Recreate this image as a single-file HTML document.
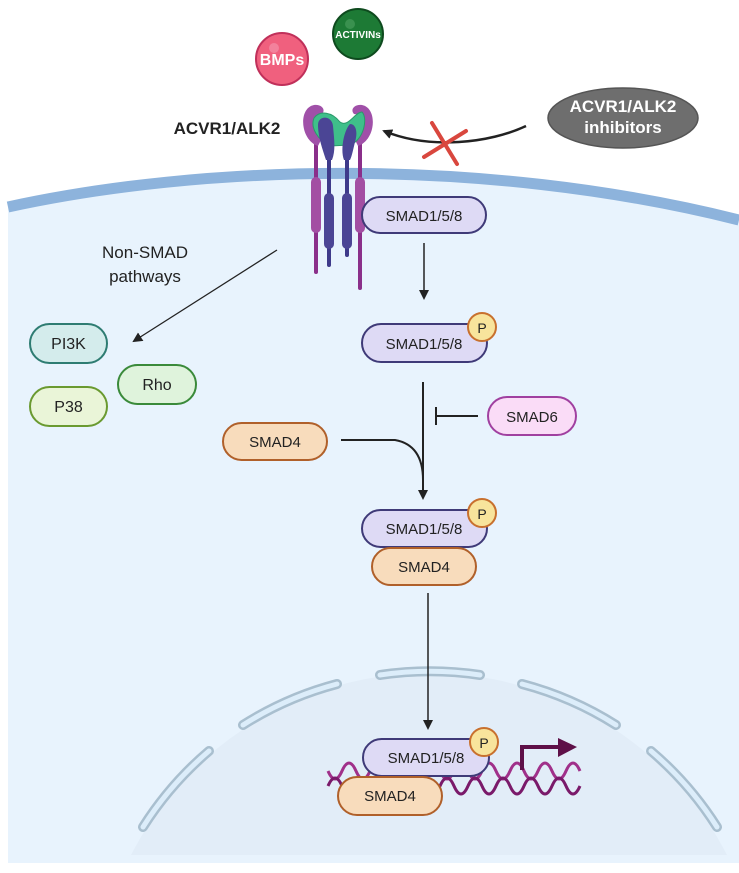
<!DOCTYPE html>
<html><head><meta charset="utf-8"><style>
html,body{margin:0;padding:0;background:#fff;width:739px;height:873px;overflow:hidden;}
svg{display:block;}
text{font-family:"Liberation Sans",Arial,sans-serif;}
</style></head><body>
<svg width="739" height="873" viewBox="0 0 739 873" xmlns="http://www.w3.org/2000/svg">
<defs>
<marker id="ah" markerWidth="10" markerHeight="10" refX="8" refY="5" orient="auto" markerUnits="userSpaceOnUse"><path d="M0,0 L10,5 L0,10 Z" fill="#222"/></marker>
<clipPath id="cellclip"><rect x="0" y="0" width="739" height="855"/></clipPath>
</defs>
<path d="M8,207 C200,165 480,155 739,220 L739,863 L8,863 Z" fill="#e8f3fd"/>
<circle cx="429" cy="1008" r="335" fill="#e2edf8" clip-path="url(#cellclip)"/>
<path d="M8,207 C200,165 480,155 739,220" fill="none" stroke="#8db3dc" stroke-width="11"/>

<g fill="none" stroke-linecap="round">
 <g stroke="#a9bfcf" stroke-width="10">
  <path d="M380,675 A335,335 0 0 1 480,675"/>
  <path d="M243,725 A335,335 0 0 1 337,684"/>
  <path d="M522,684 A335,335 0 0 1 616,725"/>
  <path d="M143,827 A335,335 0 0 1 209,751"/>
  <path d="M651,751 A335,335 0 0 1 717,827"/>
 </g>
 <g stroke="#dcedfa" stroke-width="5">
  <path d="M380,675 A335,335 0 0 1 480,675"/>
  <path d="M243,725 A335,335 0 0 1 337,684"/>
  <path d="M522,684 A335,335 0 0 1 616,725"/>
  <path d="M143,827 A335,335 0 0 1 209,751"/>
  <path d="M651,751 A335,335 0 0 1 717,827"/>
 </g>
</g>

<circle cx="282" cy="59" r="26" fill="#f0607e" stroke="#c0305a" stroke-width="2"/>
<circle cx="274" cy="48" r="5" fill="#f59ab0" opacity="0.6"/>
<text x="282" y="65" font-size="16" font-weight="bold" fill="#fff" text-anchor="middle">BMPs</text>
<circle cx="358" cy="34" r="25" fill="#1d7a35" stroke="#0e4a1e" stroke-width="2"/>
<circle cx="350" cy="24" r="5" fill="#4fa060" opacity="0.6"/>
<text x="358" y="38" font-size="10" font-weight="bold" fill="#fff" text-anchor="middle">ACTIVINs</text>

<text x="227" y="134" font-size="17" font-weight="bold" fill="#222" text-anchor="middle">ACVR1/ALK2</text>

<g stroke-linecap="round">
 <line x1="316" y1="140" x2="316" y2="272" stroke="#8a2f8a" stroke-width="4"/>
 <line x1="360" y1="140" x2="360" y2="288" stroke="#8a2f8a" stroke-width="4"/>
 <line x1="329" y1="140" x2="329" y2="265" stroke="#3e3a8a" stroke-width="4"/>
 <line x1="347" y1="140" x2="347" y2="255" stroke="#3e3a8a" stroke-width="4"/>
 <line x1="316" y1="182" x2="316" y2="228" stroke="#a34fa3" stroke-width="10"/>
 <line x1="360" y1="182" x2="360" y2="228" stroke="#a34fa3" stroke-width="10"/>
 <line x1="329" y1="198" x2="329" y2="244" stroke="#4b4595" stroke-width="10"/>
 <line x1="347" y1="198" x2="347" y2="244" stroke="#4b4595" stroke-width="10"/>
</g>
<path d="M318,146 C300,140 298,108 314,105 C322,104 326,110 322,114 C312,114 310,130 322,138 Z" fill="#a050a8"/>
<path d="M358,146 C376,140 378,108 362,105 C354,104 350,110 354,114 C364,114 366,130 354,138 Z" fill="#a050a8"/>
<path d="M314,118 C320,110 332,112 340,122 C348,128 355,112 362,112 C368,118 364,140 350,145 L330,146 C318,140 310,128 314,118 Z" fill="#3fbf8a" stroke="#2a9a6a" stroke-width="1"/>
<path d="M318,125 C318,115 332,115 333,126 C334,138 336,150 332,160 L326,160 C322,148 318,136 318,125 Z" fill="#4b4595"/>
<path d="M344,160 C340,150 344,130 350,124 C356,124 358,132 355,142 C353,150 352,156 350,160 Z" fill="#4b4595"/>

<ellipse cx="623" cy="118" rx="75" ry="30" fill="#6e6e6e" stroke="#555" stroke-width="1.5"/>
<text x="623" y="112" font-size="17" font-weight="bold" fill="#fff" text-anchor="middle">ACVR1/ALK2</text>
<text x="623" y="133" font-size="17" font-weight="bold" fill="#fff" text-anchor="middle">inhibitors</text>
<path d="M526,126 C490,143 430,150 384,131" fill="none" stroke="#222" stroke-width="2.5" marker-end="url(#ah)"/>
<g stroke="#d9473e" stroke-width="4" stroke-linecap="round">
 <line x1="424" y1="157" x2="466" y2="131"/>
 <line x1="432" y1="123" x2="457" y2="164"/>
</g>

<text x="145" y="258" font-size="17" fill="#222" text-anchor="middle">Non-SMAD</text>
<text x="145" y="282" font-size="17" fill="#222" text-anchor="middle">pathways</text>
<line x1="277" y1="250" x2="134" y2="341" stroke="#222" stroke-width="1.3" marker-end="url(#ah)"/>
<rect x="30" y="324" width="77" height="39" rx="19.5" fill="#d4ecec" stroke="#2e7c72" stroke-width="2"/>
<text x="68.5" y="349" font-size="16" fill="#222" text-anchor="middle">PI3K</text>
<rect x="118" y="365" width="78" height="39" rx="19.5" fill="#dff3dc" stroke="#3a8a3a" stroke-width="2"/>
<text x="157" y="390" font-size="16" fill="#222" text-anchor="middle">Rho</text>
<rect x="30" y="387" width="77" height="39" rx="19.5" fill="#eaf5d8" stroke="#6a9a30" stroke-width="2"/>
<text x="68.5" y="412" font-size="16" fill="#222" text-anchor="middle">P38</text>

<rect x="362" y="197" width="124" height="36" rx="18" fill="#dedaf5" stroke="#3f3a78" stroke-width="2"/>
<text x="424" y="221" font-size="15" fill="#222" text-anchor="middle">SMAD1/5/8</text>
<line x1="424" y1="243" x2="424" y2="298" stroke="#222" stroke-width="1.5" marker-end="url(#ah)"/>

<rect x="362" y="324" width="125" height="38" rx="19" fill="#dedaf5" stroke="#3f3a78" stroke-width="2"/>
<text x="424" y="349" font-size="15" fill="#222" text-anchor="middle">SMAD1/5/8</text>
<circle cx="482" cy="327" r="14" fill="#f8e49c" stroke="#c8702e" stroke-width="2"/>
<text x="482" y="333" font-size="14" fill="#222" text-anchor="middle">P</text>

<line x1="423" y1="382" x2="423" y2="498" stroke="#222" stroke-width="2" marker-end="url(#ah)"/>
<path d="M341,440 L395,440 Q423,445 423,480" fill="none" stroke="#222" stroke-width="2"/>
<line x1="436" y1="416" x2="478" y2="416" stroke="#222" stroke-width="2"/>
<line x1="436" y1="407" x2="436" y2="425" stroke="#222" stroke-width="2"/>

<rect x="488" y="397" width="88" height="38" rx="19" fill="#fadcf7" stroke="#a040a0" stroke-width="2"/>
<text x="532" y="422" font-size="15" fill="#222" text-anchor="middle">SMAD6</text>
<rect x="223" y="423" width="104" height="37" rx="18.5" fill="#f8dcbc" stroke="#b0602a" stroke-width="2"/>
<text x="275" y="447" font-size="15" fill="#222" text-anchor="middle">SMAD4</text>

<rect x="362" y="510" width="125" height="37" rx="18.5" fill="#dedaf5" stroke="#3f3a78" stroke-width="2"/>
<text x="424" y="534" font-size="15" fill="#222" text-anchor="middle">SMAD1/5/8</text>
<circle cx="482" cy="513" r="14" fill="#f8e49c" stroke="#c8702e" stroke-width="2"/>
<text x="482" y="519" font-size="14" fill="#222" text-anchor="middle">P</text>
<rect x="372" y="548" width="104" height="37" rx="18.5" fill="#f8dcbc" stroke="#b0602a" stroke-width="2"/>
<text x="424" y="572" font-size="15" fill="#222" text-anchor="middle">SMAD4</text>

<line x1="428" y1="593" x2="428" y2="728" stroke="#222" stroke-width="1.5" marker-end="url(#ah)"/>

<g fill="none" stroke-width="3">
 <path d="M328,771 q7,16 14,0 t14,0 t14,0 t14,0 t14,0 t14,0 t14,0 t14,0 t14,0 t14,0 t14,0 t14,0 t14,0 t14,0 t14,0 t14,0 t14,0 t14,0" stroke="#a0308a"/>
 <path d="M328,786 q7,-16 14,0 t14,0 t14,0 t14,0 t14,0 t14,0 t14,0 t14,0 t14,0 t14,0 t14,0 t14,0 t14,0 t14,0 t14,0 t14,0 t14,0 t14,0" stroke="#7a1a6a"/>
</g>
<path d="M522,770 L522,747 L560,747" fill="none" stroke="#5e1048" stroke-width="4"/>
<path d="M558,738 L577,747 L558,757 Z" fill="#5e1048"/>

<rect x="363" y="739" width="126" height="37" rx="18.5" fill="#dedaf5" stroke="#3f3a78" stroke-width="2"/>
<text x="426" y="763" font-size="15" fill="#222" text-anchor="middle">SMAD1/5/8</text>
<circle cx="484" cy="742" r="14" fill="#f8e49c" stroke="#c8702e" stroke-width="2"/>
<text x="484" y="748" font-size="14" fill="#222" text-anchor="middle">P</text>
<rect x="338" y="777" width="104" height="38" rx="19" fill="#f8dcbc" stroke="#b0602a" stroke-width="2"/>
<text x="390" y="801" font-size="15" fill="#222" text-anchor="middle">SMAD4</text>
</svg>
</body></html>
